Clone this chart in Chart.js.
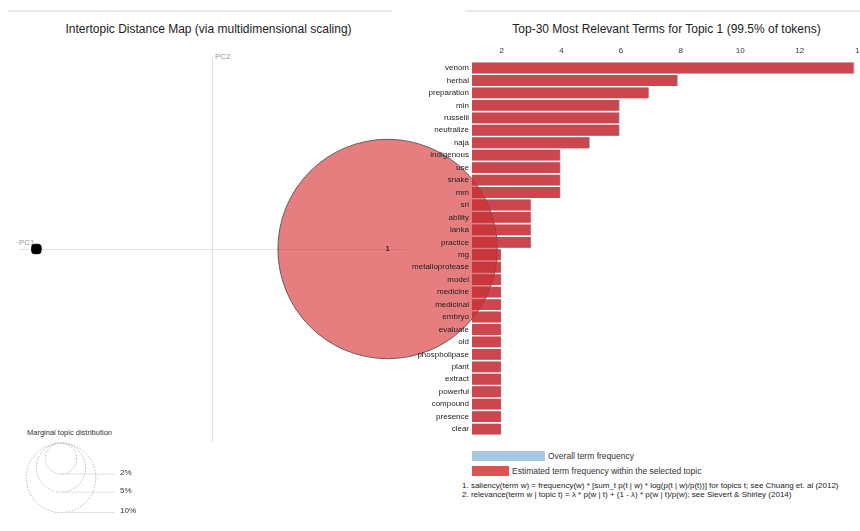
<!DOCTYPE html>
<html><head><meta charset="utf-8">
<script src="https://cdn.jsdelivr.net/npm/chart.js@4.4.1/dist/chart.umd.min.js"></script>
<style>
html,body{margin:0;padding:0;width:860px;height:531px;overflow:hidden;background:#fff;font-family:"Liberation Sans",Arial,sans-serif;}
.abs{position:absolute;white-space:nowrap;line-height:1;}
#bars{position:absolute;left:400px;top:0;}
#map{position:absolute;left:0;top:0;}
</style></head><body>
<div class="abs" style="left:8px;top:10px;width:384px;height:2px;background:#e8e8e8"></div>
<div class="abs" style="left:465px;top:10px;width:395px;height:2px;background:#e8e8e8"></div>
<div class="abs" style="left:0;width:417px;text-align:center;top:23px;font-size:12px;color:#222">Intertopic Distance Map (via multidimensional scaling)</div>
<div class="abs" style="left:466px;width:401px;text-align:center;top:23px;font-size:12px;color:#222">Top-30 Most Relevant Terms for Topic 1 (99.5% of tokens)</div>
<div class="abs" style="left:19px;top:239px;font-size:8px;color:#999">PC1</div>
<div class="abs" style="left:215px;top:53px;font-size:8px;color:#999">PC2</div>
<div class="abs" style="left:27px;top:429px;font-size:7.5px;color:#333">Marginal topic distribution</div>
<div class="abs" style="left:472px;top:451px;width:73px;height:10px;background:rgba(31,119,180,0.4)"></div>
<div class="abs" style="left:548px;top:452px;font-size:8.5px;color:#333">Overall term frequency</div>
<div class="abs" style="left:472px;top:466px;width:37px;height:10px;background:rgba(214,39,40,0.8)"></div>
<div class="abs" style="left:512px;top:467px;font-size:8.5px;color:#333">Estimated term frequency within the selected topic</div>
<div class="abs" style="left:462px;top:482px;font-size:8px;color:#222">1. saliency(term w) = frequency(w) * [sum_t p(t | w) * log(p(t | w)/p(t))] for topics t; see Chuang et. al (2012)</div>
<div class="abs" style="left:462px;top:491px;font-size:8px;color:#222">2. relevance(term w | topic t) = λ * p(w | t) + (1 - λ) * p(w | t)/p(w); see Sievert &amp; Shirley (2014)</div>
<canvas id="map" width="860" height="531"></canvas>
<canvas id="bars" width="480" height="531"></canvas>
<script>
// ---- data ----
const terms = ['venom','herbal','preparation','min','russelii','neutralize','naja','indigenous','use','snake','mm','sri','ability','lanka','practice','mg','metalloprotease','model','medicine','medicinal','embryo','evaluate','old','phospholipase','plant','extract','powerful','compound','presence','clear'];
const topicFreq = [13.80,7.88,6.92,5.93,5.93,5.93,4.93,3.95,3.95,3.95,3.95,2.97,2.97,2.97,2.97,1.97,1.97,1.97,1.97,1.97,1.97,1.97,1.97,1.97,1.97,1.97,1.97,1.97,1.97,1.97];
const overallFreq = [13.84,7.92,6.95,5.96,5.96,5.96,4.96,3.97,3.97,3.97,3.97,2.98,2.98,2.98,2.98,1.98,1.98,1.98,1.98,1.98,1.98,1.98,1.98,1.98,1.98,1.98,1.98,1.98,1.98,1.98];
const xTicks = [2,4,6,8,10,12,14];
const topicIds = ['1','2'];
const topicPC1 = [0.181,-0.182];
const topicPC2 = [0,0];
const topicShare = [0.995,0.005];
const legendShares = [0.02,0.05,0.10];
const legendLabels = ['2%','5%','10%'];

const FONT = '"Liberation Sans", Arial, sans-serif';
Chart.defaults.font.family = FONT;

const K = 110;
const radius = s => K * Math.sqrt(s);

const mapDecor = {
  id: 'mapDecor',
  afterDatasetsDraw(chart) {
    const ctx = chart.ctx, ca = chart.chartArea;
    const xs = chart.scales.x, ys = chart.scales.y;
    ctx.save();
    ctx.fillStyle = '#000'; ctx.font = '8px ' + FONT;
    ctx.textAlign = 'center'; ctx.textBaseline = 'middle';
    ctx.fillText(topicIds[0], xs.getPixelForValue(topicPC1[0]), ys.getPixelForValue(topicPC2[0]));
    // marginal topic distribution legend
    const cx = 61, top = ca.bottom + 1;
    legendShares.forEach((p, i) => {
      const r = radius(p);
      ctx.beginPath(); ctx.setLineDash([1.5, 1.5]); ctx.strokeStyle = '#b5b5b5'; ctx.lineWidth = 1;
      ctx.arc(cx, top + r, r, 0, Math.PI * 2); ctx.stroke();
      ctx.setLineDash([]); ctx.strokeStyle = '#e2e2e2';
      ctx.beginPath(); ctx.moveTo(cx, top + 2 * r); ctx.lineTo(115, top + 2 * r); ctx.stroke();
      ctx.fillStyle = '#333'; ctx.textAlign = 'left';
      ctx.fillText(legendLabels[i], 120, top + 2 * r - 1.5);
    });
    ctx.restore();
  }
};

new Chart(document.getElementById('map'), {
  type: 'bubble',
  data: { datasets: [
    { data: [{ x: topicPC1[0], y: topicPC2[0], r: radius(topicShare[0]) }], backgroundColor: 'rgba(214,39,40,0.6)', borderColor: 'rgba(50,50,50,0.7)', borderWidth: 1, clip: false },
    { type: 'scatter', data: [{ x: topicPC1[1], y: topicPC2[1] }], pointStyle: 'rectRounded', pointRadius: 5.5, backgroundColor: '#000', borderColor: '#000', clip: false }
  ]},
  options: {
    responsive: false, animation: false, devicePixelRatio: 1,
    layout: { autoPadding: false, padding: { left: 19, right: 454, top: 56, bottom: 89 } },
    plugins: { legend: { display: false }, tooltip: { enabled: false } },
    scales: {
      x: { type: 'linear', min: -0.2, max: 0.2, afterBuildTicks: s => { s.ticks = [{ value: 0 }]; },
        afterFit: s => { s.height = 0; }, ticks: { display: false },
        grid: { color: '#e2e2e2', lineWidth: 1, drawTicks: false }, border: { display: false } },
      y: { type: 'linear', min: -0.2, max: 0.2, afterBuildTicks: s => { s.ticks = [{ value: 0 }]; },
        afterFit: s => { s.width = 0; }, ticks: { display: false },
        grid: { color: '#e2e2e2', lineWidth: 1, drawTicks: false }, border: { display: false } }
    }
  },
  plugins: [mapDecor]
});

new Chart(document.getElementById('bars'), {
  type: 'bar',
  data: { labels: terms, datasets: [
    { label: 'Estimated term frequency within the selected topic', data: topicFreq, backgroundColor: 'rgba(214,39,40,0.8)', order: 0, grouped: false, base: 1, barPercentage: 0.87, categoryPercentage: 1 },
    { label: 'Overall term frequency', data: overallFreq, backgroundColor: 'rgba(31,119,180,0.4)', order: 1, grouped: false, base: 1, barPercentage: 0.87, categoryPercentage: 1 }
  ]},
  options: {
    indexAxis: 'y', responsive: false, animation: false, devicePixelRatio: 1,
    layout: { autoPadding: false, padding: { left: 0, right: 20.6, top: 0, bottom: 95.7 } },
    plugins: { legend: { display: false }, tooltip: { enabled: false } },
    scales: {
      x: { type: 'linear', position: 'top', min: 1, max: 14,
        afterBuildTicks: s => { s.ticks = xTicks.map(v => ({ value: v })); },
        afterFit: s => { s.height = 61.8; },
        grid: { display: false, drawTicks: false }, border: { display: false },
        ticks: { font: { size: 8 }, color: '#333', padding: 6, maxRotation: 0, autoSkip: false } },
      y: { afterFit: s => { s.width = 72; },
        grid: { display: false, drawTicks: false }, border: { display: false },
        ticks: { font: { size: 8 }, color: '#222', padding: 3, autoSkip: false } }
    }
  }
});
</script>
</body></html>
